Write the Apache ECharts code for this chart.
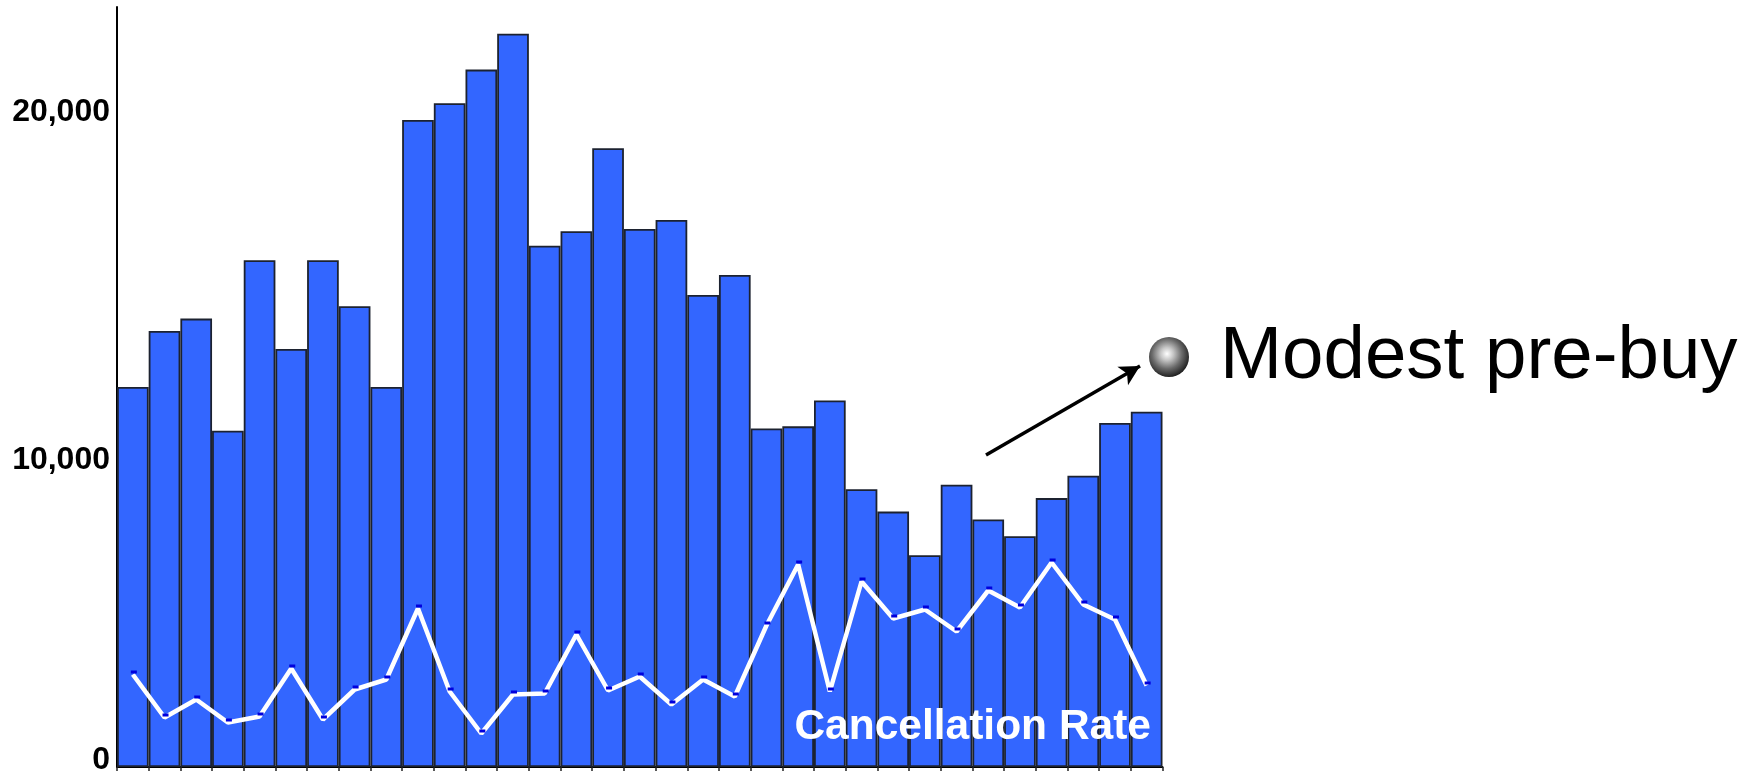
<!DOCTYPE html>
<html>
<head>
<meta charset="utf-8">
<style>html,body{margin:0;padding:0;background:#fff}#c{width:1759px;height:771px}</style>
<script src="https://cdn.jsdelivr.net/npm/echarts@6/dist/echarts.min.js"></script>
</head>
<body>
<div id="c"></div>
<script>
const categories = ['1','2','3','4','5','6','7','8','9','10','11','12','13','14','15','16','17','18','19','20','21','22','23','24','25','26','27','28','29','30','31','32','33'];
const orders = [11566,13273,13649,10234,15424,12727,15424,14024,11566,19693,20205,21229,22322,15868,16312,18839,16380,16653,14366,14980,10302,10370,11156,8458,7775,6444,8595,7536,7024,8185,8868,10473,10814];
const cancellationRate = [1.88,1.02,1.38,0.92,1.04,2.0,0.98,1.58,1.78,3.2,1.54,0.7,1.48,1.5,2.68,1.56,1.84,1.28,1.78,1.44,2.86,4.08,1.54,3.74,3.0,3.18,2.74,3.56,3.22,4.12,3.28,2.98,1.66];
const yTickValues = [0,10000,20000];
const yTickLabels = {0:'{zero|0}',10000:'{ten|10,000}',20000:'{twenty|20,000}'};
const rateLabel = 'Cancellation Rate';
const noteLabel = 'Modest pre-buy';

const labelFont = {fontFamily:'Liberation Sans',fontWeight:'bold',fontSize:32,color:'#000'};
const chart = echarts.init(document.getElementById('c'),null,{renderer:'canvas'});
chart.setOption({
  animation:false,
  backgroundColor:'#fff',
  grid:{left:117,top:7,width:1045.5,height:760,containLabel:false,outerBoundsMode:'none'},
  tooltip:{show:false},
  xAxis:{type:'category',data:categories,boundaryGap:true,
    axisLine:{show:true,lineStyle:{color:'#000',width:2}},
    axisTick:{show:true,length:4,lineStyle:{color:'#222',width:1.5}},
    axisLabel:{show:false},splitLine:{show:false}},
  yAxis:[
    {type:'value',min:0,max:23135,
     axisLine:{show:true,lineStyle:{color:'#000',width:2}},
     axisTick:{show:false},splitLine:{show:false},
     axisLabel:{show:true,margin:7,customValues:yTickValues,
       formatter:v=>yTickLabels[v]||'',
       rich:{
         zero:Object.assign({},labelFont,{padding:[0,0,14,0]}),
         ten:Object.assign({},labelFont,{padding:[44,0,0,0]}),
         twenty:Object.assign({},labelFont,{padding:[4,0,0,0]})
       }}},
    {type:'value',min:0.03,max:15.23,show:false,splitLine:{show:false}}
  ],
  series:[
    {type:'bar',data:orders,barWidth:'100%',barGap:0,barCategoryGap:0,
     itemStyle:{color:'#3366ff',borderColor:'#1c2230',borderWidth:1.8},
     silent:true,
     markLine:{silent:true,animation:false,symbol:['none','arrow'],symbolSize:[16,20],
       label:{show:false},
       lineStyle:{color:'#000',width:3.5,type:'solid'},
       data:[[{x:986,y:455},{x:1140,y:366}]]}},
    {type:'line',yAxisIndex:1,data:cancellationRate,
     lineStyle:{color:'#fff',width:4.5},
     showSymbol:true,symbol:'rect',symbolSize:[6,3],symbolOffset:[1,-2.5],
     itemStyle:{color:'#0000dd'},z:5,silent:true}
  ],
  graphic:[
    {type:'text',z:10,style:{x:1151,y:727,text:rateLabel,align:'right',verticalAlign:'middle',
      fill:'#fff',font:'bold 42.5px "Liberation Sans"'}},
    {type:'text',z:10,style:{x:1220,y:357.5,text:noteLabel,align:'left',verticalAlign:'middle',
      fill:'#000',font:'74.5px "Liberation Sans"'}},
    {type:'circle',z:10,shape:{cx:1169,cy:357,r:20},
     style:{fill:new echarts.graphic.RadialGradient(0.45,0.42,0.62,[
       {offset:0,color:'#ffffff'},{offset:0.25,color:'#c8c8c8'},{offset:0.6,color:'#6a6a6a'},{offset:1,color:'#141414'}])}}
  ]
});
</script>
</body>
</html>
